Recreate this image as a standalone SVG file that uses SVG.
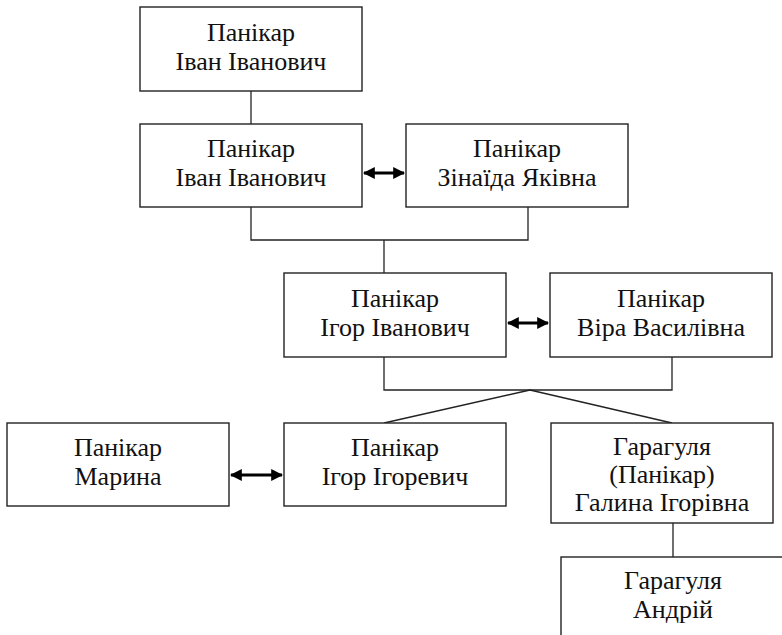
<svg xmlns="http://www.w3.org/2000/svg" width="782" height="635" viewBox="0 0 782 635">
<style>
.box{fill:#fff;stroke:#222;stroke-width:1.4}
.ln{fill:none;stroke:#222;stroke-width:1.3}
.ar{fill:none;stroke:#000;stroke-width:3;marker-start:url(#ah);marker-end:url(#ah)}
.t{font-family:'Liberation Serif','DejaVu Serif',serif;font-size:26px;fill:#111;text-anchor:middle}
</style>
<defs>
<marker id="ah" viewBox="0 0 10 10" refX="9" refY="5" markerWidth="4" markerHeight="4" orient="auto-start-reverse" markerUnits="strokeWidth">
<path d="M0,0 L10,5 L0,10 z" fill="#000"/>
</marker>
</defs>
<g id="connectors">
<path class="ln" d="M251,91 V124"/>
<path class="ln" d="M251,207 V240 H528 V207"/>
<path class="ln" d="M384,240 V273"/>
<path class="ln" d="M384,357 V390 H672 V357"/>
<path class="ln" d="M530,390 L384,423 M530,390 L672,423"/>
<path class="ln" d="M673,523 V557"/>
<path class="ar" d="M364,173 H404"/>
<path class="ar" d="M508,323 H548"/>
<path class="ar" d="M231,475 H282"/>
</g>
<g id="n1"><rect class="box" x="140" y="7" width="222" height="84"/><text class="t" x="251" y="41">Панікар</text><text class="t" x="251" y="70">Іван Іванович</text></g>
<g id="n2"><rect class="box" x="140" y="124" width="222" height="83"/><text class="t" x="251" y="157">Панікар</text><text class="t" x="251" y="186">Іван Іванович</text></g>
<g id="n3"><rect class="box" x="406" y="124" width="222" height="83"/><text class="t" x="517" y="157">Панікар</text><text class="t" x="517" y="186">Зінаїда Яківна</text></g>
<g id="n4"><rect class="box" x="284" y="273" width="222" height="84"/><text class="t" x="395" y="307">Панікар</text><text class="t" x="395" y="336">Ігор Іванович</text></g>
<g id="n5"><rect class="box" x="550" y="273" width="222" height="84"/><text class="t" x="661" y="307">Панікар</text><text class="t" x="661" y="336">Віра Василівна</text></g>
<g id="n6"><rect class="box" x="7" y="423" width="222" height="83"/><text class="t" x="118" y="456">Панікар</text><text class="t" x="118" y="485">Марина</text></g>
<g id="n7"><rect class="box" x="284" y="423" width="222" height="83"/><text class="t" x="395" y="456">Панікар</text><text class="t" x="395" y="485">Ігор Ігоревич</text></g>
<g id="n8"><rect class="box" x="551" y="423" width="222" height="100"/><text class="t" x="662" y="455">Гарагуля</text><text class="t" x="662" y="483">(Панікар)</text><text class="t" x="662" y="511">Галина Ігорівна</text></g>
<g id="n9"><rect class="box" x="561" y="557" width="240" height="100"/><text class="t" x="673" y="589">Гарагуля</text><text class="t" x="673" y="618">Андрій</text></g>
</svg>
